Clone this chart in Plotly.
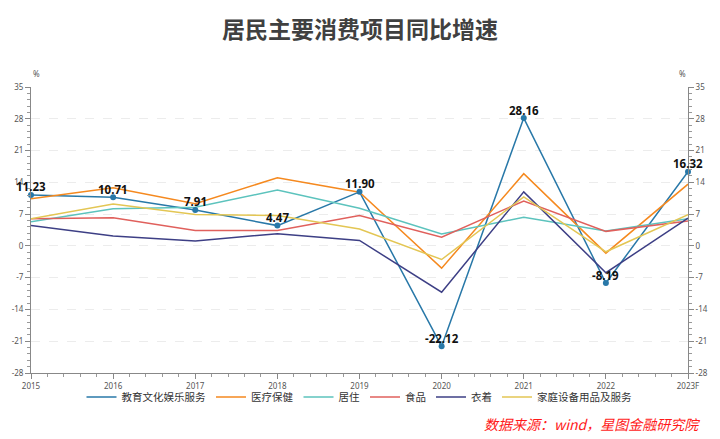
import plotly.graph_objects as go

years = [2015, 2016, 2017, 2018, 2019, 2020, 2021, 2022, 2023]
year_labels = ["2015", "2016", "2017", "2018", "2019", "2020", "2021", "2022", "2023F"]

edu = [11.23, 10.71, 7.91, 4.47, 11.90, -22.12, 28.16, -8.19, 16.32]
medical = [10.4, 12.8, 9.3, 15.0, 11.8, -4.9, 15.9, -1.6, 13.6]
housing = [5.3, 8.2, 8.5, 12.3, 8.3, 2.6, 6.3, 3.3, 6.0]
food = [6.0, 6.2, 3.4, 3.4, 6.7, 1.9, 9.9, 3.2, 5.5]
clothing = [4.5, 2.2, 1.1, 2.7, 1.2, -10.2, 11.9, -5.9, 6.1]
household = [6.0, 9.2, 6.9, 6.7, 3.7, -3.0, 10.8, -1.3, 6.9]

series = [
    ("教育文化娱乐服务", edu, "#2878a8"),
    ("医疗保健", medical, "#f5891f"),
    ("居住", housing, "#5cc3bd"),
    ("食品", food, "#e0605c"),
    ("衣着", clothing, "#3d3f85"),
    ("家庭设备用品及服务", household, "#e3c654"),
]

ytick_vals = [35, 28, 21, 14, 7, 0, -7, -14, -21, -28]
ytick_text = ["35", "28", "21", "14", "7", "0", "-7", "-14", "-21", "-28"]

fig = go.Figure()
for i, (name, vals, color) in enumerate(series):
    fig.add_trace(go.Scatter(x=years, y=vals, name=name, mode="lines",
                             line=dict(color=color, width=1.5), hoverinfo="skip",
                             legendrank=i))
name, vals, color = series[0]
fig.add_trace(go.Scatter(x=years, y=vals, name=name, mode="markers", showlegend=False,
                         marker=dict(size=6, color=color), cliponaxis=False, hoverinfo="skip"))
# right-axis mirror (invisible)
fig.add_trace(go.Scatter(x=years, y=vals, yaxis="y2", mode="lines", line=dict(width=0),
                         opacity=0, showlegend=False, hoverinfo="skip"))

annotations = [
    dict(x=x, y=v, xref="x", yref="y", text=f"{v:.2f}", showarrow=False,
         yanchor="middle", yshift=8,
         font=dict(family="Noto Sans", size=11.5, color="#111111", weight="bold"))
    for x, v in zip(years, edu)
]

axis_common = dict(
    range=[-28, 35], tickvals=ytick_vals, ticktext=ytick_text,
    ticks="outside", ticklen=5, tickcolor="#888888", tickwidth=1,
    showline=True, linecolor="#888888", linewidth=1,
    tickfont=dict(family="Noto Sans", size=8, color="#555555"),
    zeroline=False,
    minor=dict(ticks="outside", ticklen=3, tickcolor="#999999", dtick=1.4, tick0=0, showgrid=False),
)

annotations += [
    dict(text="%", xref="paper", yref="paper", x=0, y=1.075, showarrow=False,
         font=dict(family="Noto Sans", size=8, color="#555555")),
    dict(text="%", xref="paper", yref="paper", x=1, y=1.075, showarrow=False,
         font=dict(family="Noto Sans", size=8, color="#555555")),
    dict(text="<i>数据来源：wind，星图金融研究院</i>", xref="paper", yref="paper",
         x=1.021, y=-0.178, xanchor="right", yanchor="middle", showarrow=False,
         font=dict(family="Noto Sans CJK SC", size=14, color="#ff1a1a")),
]

fig.update_layout(
    width=720, height=439,
    margin=dict(l=23, r=24, t=87, b=66),
    plot_bgcolor="white", paper_bgcolor="white",
    title=dict(text="居民主要消费项目同比增速", x=0.5, xanchor="center", y=0.932, yanchor="middle",
               font=dict(family="Noto Sans CJK SC", size=23, color="#404040", weight="bold")),
    xaxis=dict(range=[2015, 2023], tickvals=years, ticktext=year_labels,
               ticks="outside", ticklen=5, tickcolor="#888888",
               showline=True, linecolor="#888888", linewidth=1, showgrid=False, zeroline=False,
               tickfont=dict(family="Noto Sans", size=8, color="#555555"),
               minor=dict(ticks="outside", ticklen=3, tickcolor="#999999", dtick=0.2, tick0=2015)),
    yaxis=dict(**axis_common, side="left", showgrid=True, gridcolor="#ececec", griddash="dash", gridwidth=1),
    yaxis2=dict(**axis_common, side="right", overlaying="y", showgrid=False),
    legend=dict(orientation="h", x=0.5, xanchor="center", y=-0.084, yanchor="middle",
                font=dict(family="Noto Sans CJK SC", size=10.5, color="#333333"),
                itemwidth=30, tracegroupgap=0, bgcolor="rgba(0,0,0,0)"),
    showlegend=True,
    annotations=annotations,
)

fig.write_html("out.html")
